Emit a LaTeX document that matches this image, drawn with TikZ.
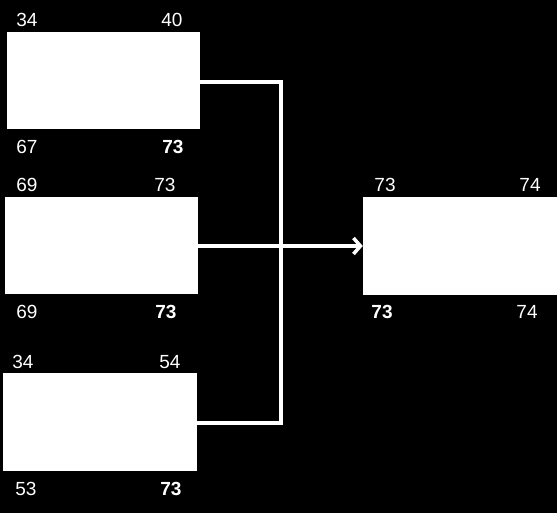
\documentclass[tikz,border=0pt]{standalone}
\usepackage{fontspec}
\setmainfont{Liberation Sans}
\usetikzlibrary{arrows.meta}
\begin{document}
\begin{tikzpicture}[x=1pt,y=-1pt,
  blk/.style={fill=white,draw=none,inner sep=0pt},
  lbl/.style={text=white,font=\fontsize{19}{21}\selectfont,inner sep=0pt,anchor=center},
  blbl/.style={lbl,font=\fontsize{19}{21}\selectfont\bfseries},
  conn/.style={draw=white,line width=3.5pt}]
\fill[black] (0,0) rectangle (557,513);
\useasboundingbox (0,0) rectangle (557,513);
\node[blk,minimum width=193pt,minimum height=97pt] (b1) at (103.5,80.5) {};
\node[blk,minimum width=193pt,minimum height=97pt] (b2) at (101.5,245.5) {};
\node[blk,minimum width=194pt,minimum height=98pt] (b3) at (100,422) {};
\node[blk,minimum width=196pt,minimum height=98pt] (b4) at (461,246) {};
\coordinate (j1) at (281,82);
\coordinate (j3) at (281,423);
\draw[conn] (b1.east |- 0,82) -- (j1) -- (j3) -- (b3.east |- 0,423);
\draw[conn,-{Straight Barb[length=7pt,width=16pt,line width=3.5pt]}] (b2.east |- 0,246) -- (b4.west |- 0,246);
\node[lbl] (t1a) at (27,20) {34};
\node[lbl] (t1b) at (172,20) {40};
\node[lbl] (t1c) at (27,147) {67};
\node[blbl] (t1d) at (173,147) {73};
\node[lbl] (t2a) at (27,185) {69};
\node[lbl] (t2b) at (165,185) {73};
\node[lbl] (t2c) at (27,312) {69};
\node[blbl] (t2d) at (166,312) {73};
\node[lbl] (t3a) at (23,362) {34};
\node[lbl] (t3b) at (170,362) {54};
\node[lbl] (t3c) at (26,489) {53};
\node[blbl] (t3d) at (171,489) {73};
\node[lbl] (t4a) at (385,185) {73};
\node[lbl] (t4b) at (530,185) {74};
\node[blbl] (t4c) at (382,312) {73};
\node[lbl] (t4d) at (527,312) {74};
\end{tikzpicture}
\end{document}
